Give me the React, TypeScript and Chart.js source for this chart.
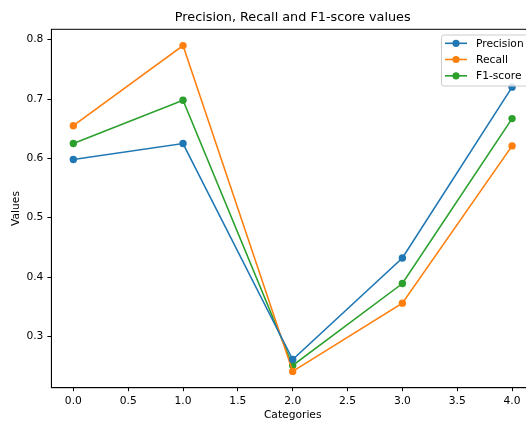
import React, { useEffect, useRef } from "react";
import { Chart, registerables } from "chart.js";

Chart.register(...registerables);

const categories = [0, 1, 2, 3, 4];
const precision = [0.598, 0.625, 0.261, 0.432, 0.72];
const recall = [0.655, 0.79, 0.241, 0.356, 0.621];
const f1score = [0.625, 0.698, 0.251, 0.389, 0.667];
const seriesNames = ["Precision", "Recall", "F1-score"];
const seriesColors = ["#1f77b4", "#ff7f0e", "#2ca02c"];
const xTicks = [0, 0.5, 1, 1.5, 2, 2.5, 3, 3.5, 4];
const yTicks = [0.3, 0.4, 0.5, 0.6, 0.7, 0.8];
const titleText = "Precision, Recall and F1-score values";
const xTitle = "Categories";
const yTitle = "Values";

const FONT = "DejaVu Sans";
const CANVAS_W = 560;
const CANVAS_H = 423;

export default function App() {
  const ref = useRef<HTMLCanvasElement | null>(null);

  useEffect(() => {
    if (!ref.current) return;
    const seriesValues = [precision, recall, f1score];

    const framePlugin = {
      id: "frameTitleLegend",
      afterDraw(chart: any) {
        const { ctx, chartArea } = chart;
        ctx.save();
        ctx.strokeStyle = "#000";
        ctx.lineWidth = 1;
        ctx.strokeRect(chartArea.left, chartArea.top, chartArea.right - chartArea.left, chartArea.bottom - chartArea.top);
        ctx.fillStyle = "#000";
        ctx.font = `12.8px "${FONT}"`;
        ctx.textAlign = "center";
        ctx.textBaseline = "middle";
        ctx.fillText(titleText, (chartArea.left + chartArea.right) / 2, 18);
        const bx = 441.5, by = 35, bw = 90, bh = 51;
        ctx.beginPath();
        const r = 2.5;
        ctx.moveTo(bx + r, by);
        ctx.lineTo(bx + bw - r, by);
        ctx.quadraticCurveTo(bx + bw, by, bx + bw, by + r);
        ctx.lineTo(bx + bw, by + bh - r);
        ctx.quadraticCurveTo(bx + bw, by + bh, bx + bw - r, by + bh);
        ctx.lineTo(bx + r, by + bh);
        ctx.quadraticCurveTo(bx, by + bh, bx, by + bh - r);
        ctx.lineTo(bx, by + r);
        ctx.quadraticCurveTo(bx, by, bx + r, by);
        ctx.closePath();
        ctx.fillStyle = "rgba(255,255,255,0.8)";
        ctx.fill();
        ctx.strokeStyle = "#cccccc";
        ctx.lineWidth = 1;
        ctx.stroke();
        const rows = [43.3, 59.5, 75.8];
        ctx.font = `10.7px "${FONT}"`;
        ctx.textAlign = "left";
        ctx.textBaseline = "middle";
        seriesNames.forEach((name, i) => {
          const y = rows[i];
          ctx.strokeStyle = seriesColors[i];
          ctx.lineWidth = 1.6;
          ctx.beginPath();
          ctx.moveTo(445, y);
          ctx.lineTo(467, y);
          ctx.stroke();
          ctx.fillStyle = seriesColors[i];
          ctx.beginPath();
          ctx.arc(456, y, 3.6, 0, Math.PI * 2);
          ctx.fill();
          ctx.fillStyle = "#000";
          ctx.fillText(name, 476, y + 0.5);
        });
        ctx.restore();
      },
    };

    const chart = new Chart(ref.current, {
      type: "line",
      data: {
        datasets: seriesNames.map((name, i) => ({
          label: name,
          data: categories.map((c, j) => ({ x: c, y: seriesValues[i][j] })),
          borderColor: seriesColors[i],
          backgroundColor: seriesColors[i],
          pointBackgroundColor: seriesColors[i],
          pointBorderWidth: 0,
          pointRadius: 3.7,
          borderWidth: 1.6,
          tension: 0,
          fill: false,
        })),
      },
      options: {
        responsive: false,
        animation: false,
        devicePixelRatio: 1,
        layout: { padding: { left: 0, top: 29.3, right: CANVAS_W - 534, bottom: 0 } },
        plugins: {
          legend: { display: false },
          title: { display: false },
          tooltip: { enabled: false },
        },
        scales: {
          x: {
            type: "linear",
            min: -0.2,
            max: 4.2,
            afterBuildTicks: (s: any) => {
              s.ticks = xTicks.map((v) => ({ value: v }));
            },
            afterFit: (s: any) => {
              s.height = CANVAS_H - 387.7;
            },
            ticks: {
              color: "#000",
              font: { family: FONT, size: 10.7 },
              padding: 4,
              maxRotation: 0,
              autoSkip: false,
              callback: (v: any) => Number(v).toFixed(1),
            },
            grid: { display: true, drawOnChartArea: false, drawTicks: true, tickLength: 3.5, color: "#000", tickWidth: 1 },
            border: { display: true, color: "#000", width: 1 },
            title: { display: true, text: xTitle, color: "#000", font: { family: FONT, size: 10.7 }, padding: { top: 0, bottom: 1 } },
          },
          y: {
            type: "linear",
            min: 0.2135,
            max: 0.8175,
            afterBuildTicks: (s: any) => {
              s.ticks = yTicks.map((v) => ({ value: v }));
            },
            afterFit: (s: any) => {
              s.width = 51.4;
            },
            ticks: {
              color: "#000",
              font: { family: FONT, size: 10.7 },
              padding: 4,
              autoSkip: false,
              callback: (v: any) => Number(v).toFixed(1),
            },
            grid: { display: true, drawOnChartArea: false, drawTicks: true, tickLength: 4, color: "#000", tickWidth: 1 },
            border: { display: true, color: "#000", width: 1 },
            title: { display: true, text: yTitle, color: "#000", font: { family: FONT, size: 10.7 }, padding: { top: 10, bottom: 0 } },
          },
        },
      },
      plugins: [framePlugin],
    } as any);

    return () => chart.destroy();
  }, []);

  return (
    <div style={{ position: "absolute", left: 0, top: 0, width: 526, height: 423, overflow: "hidden", background: "#fff" }}>
      <canvas ref={ref} width={CANVAS_W} height={CANVAS_H} style={{ display: "block", width: CANVAS_W, height: CANVAS_H }} />
    </div>
  );
}
